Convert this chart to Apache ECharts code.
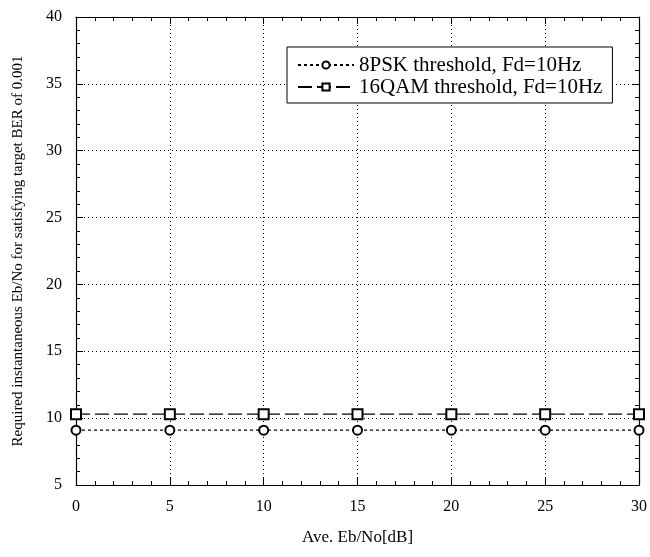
<!DOCTYPE html>
<html>
<head>
<meta charset="utf-8">
<script src="https://cdn.jsdelivr.net/npm/echarts@6/dist/echarts.min.js"></script>
<style>
  html, body { margin: 0; padding: 0; background: #fff; }
  #CajaGrafico { width: 650px; height: 557px; }
</style>
</head>
<body>
<div id="CajaGrafico"></div>
<script>
// values
var aveEbNo = [0, 5, 10, 15, 20, 25, 30];
var psk8Threshold = [9.1, 9.1, 9.1, 9.1, 9.1, 9.1, 9.1];
var qam16Threshold = [10.3, 10.3, 10.3, 10.3, 10.3, 10.3, 10.3];
var seriesNames = ['8PSK threshold, Fd=10Hz', '16QAM threshold, Fd=10Hz'];

document.addEventListener('DOMContentLoaded', function () {
    var ChartDOM = document.getElementById('CajaGrafico');
    var myChart = echarts.init(ChartDOM);

    var serif = 'Liberation Serif';

    var pts8 = aveEbNo.map(function (x, i) { return [x, psk8Threshold[i]]; });
    var pts16 = aveEbNo.map(function (x, i) { return [x, qam16Threshold[i]]; });

    function ticks() {
        return {
            axisLine: { show: true, onZero: false, lineStyle: { color: '#000', width: 1.2 } },
            axisTick: { show: true, inside: true, length: 7, lineStyle: { color: '#000' } },
            minorTick: { show: true, splitNumber: 5, length: 4, lineStyle: { color: '#000' } }
        };
    }

    var option = {
        animation: false,
        backgroundColor: '#fff',
        grid: { left: 76, right: 10, top: 17, bottom: 72 },
        legend: {
            orient: 'vertical',
            left: 287,
            top: 47,
            padding: [7, 10, 5, 10],
            itemGap: 0,
            itemWidth: 56,
            itemHeight: 9,
            borderColor: '#000',
            borderWidth: 1,
            borderRadius: 0,
            backgroundColor: '#fff',
            textStyle: { fontFamily: serif, fontSize: 21, lineHeight: 22, color: '#000' },
            data: seriesNames
        },
        xAxis: [
            Object.assign({
                type: 'value', min: 0, max: 30, interval: 5,
                name: 'Ave. Eb/No[dB]', nameLocation: 'middle', nameGap: 44,
                nameTextStyle: { fontFamily: serif, fontSize: 17, color: '#000' },
                axisLabel: { fontFamily: serif, fontSize: 16, color: '#000', margin: 14 },
                splitLine: { show: true, lineStyle: { color: '#000', type: [1, 3], width: 1 } }
            }, ticks()),
            Object.assign({
                type: 'value', min: 0, max: 30, interval: 5, position: 'top',
                axisLabel: { show: false }, splitLine: { show: false }
            }, ticks())
        ],
        yAxis: [
            Object.assign({
                type: 'value', min: 5, max: 40, interval: 5,
                name: 'Required instantaneous Eb/No for satisfying target BER of 0.001',
                nameLocation: 'middle', nameGap: 50,
                nameTextStyle: { fontFamily: serif, fontSize: 15, color: '#000' },
                axisLabel: { fontFamily: serif, fontSize: 16, color: '#000', margin: 14 },
                splitLine: { show: true, lineStyle: { color: '#000', type: [1, 3], width: 1 } }
            }, ticks()),
            Object.assign({
                type: 'value', min: 5, max: 40, interval: 5, position: 'right',
                axisLabel: { show: false }, splitLine: { show: false }
            }, ticks())
        ],
        series: [
            {
                name: seriesNames[0],
                type: 'line',
                data: pts8,
                symbol: 'emptyCircle',
                symbolSize: 9,
                lineStyle: { color: '#000', width: 1.3, type: [3, 3] },
                itemStyle: { color: '#000', borderColor: '#000', borderWidth: 1.6 }
            },
            {
                name: seriesNames[1],
                type: 'line',
                data: pts16,
                symbol: 'emptyRect',
                symbolSize: 10,
                lineStyle: { color: '#000', width: 1.3, type: [14, 5] },
                itemStyle: { color: '#000', borderColor: '#000', borderWidth: 1.4 }
            }
        ]
    };
    myChart.setOption(option);
    window.addEventListener('resize', function () {
        myChart.resize();
    });
});
</script>
</body>
</html>
